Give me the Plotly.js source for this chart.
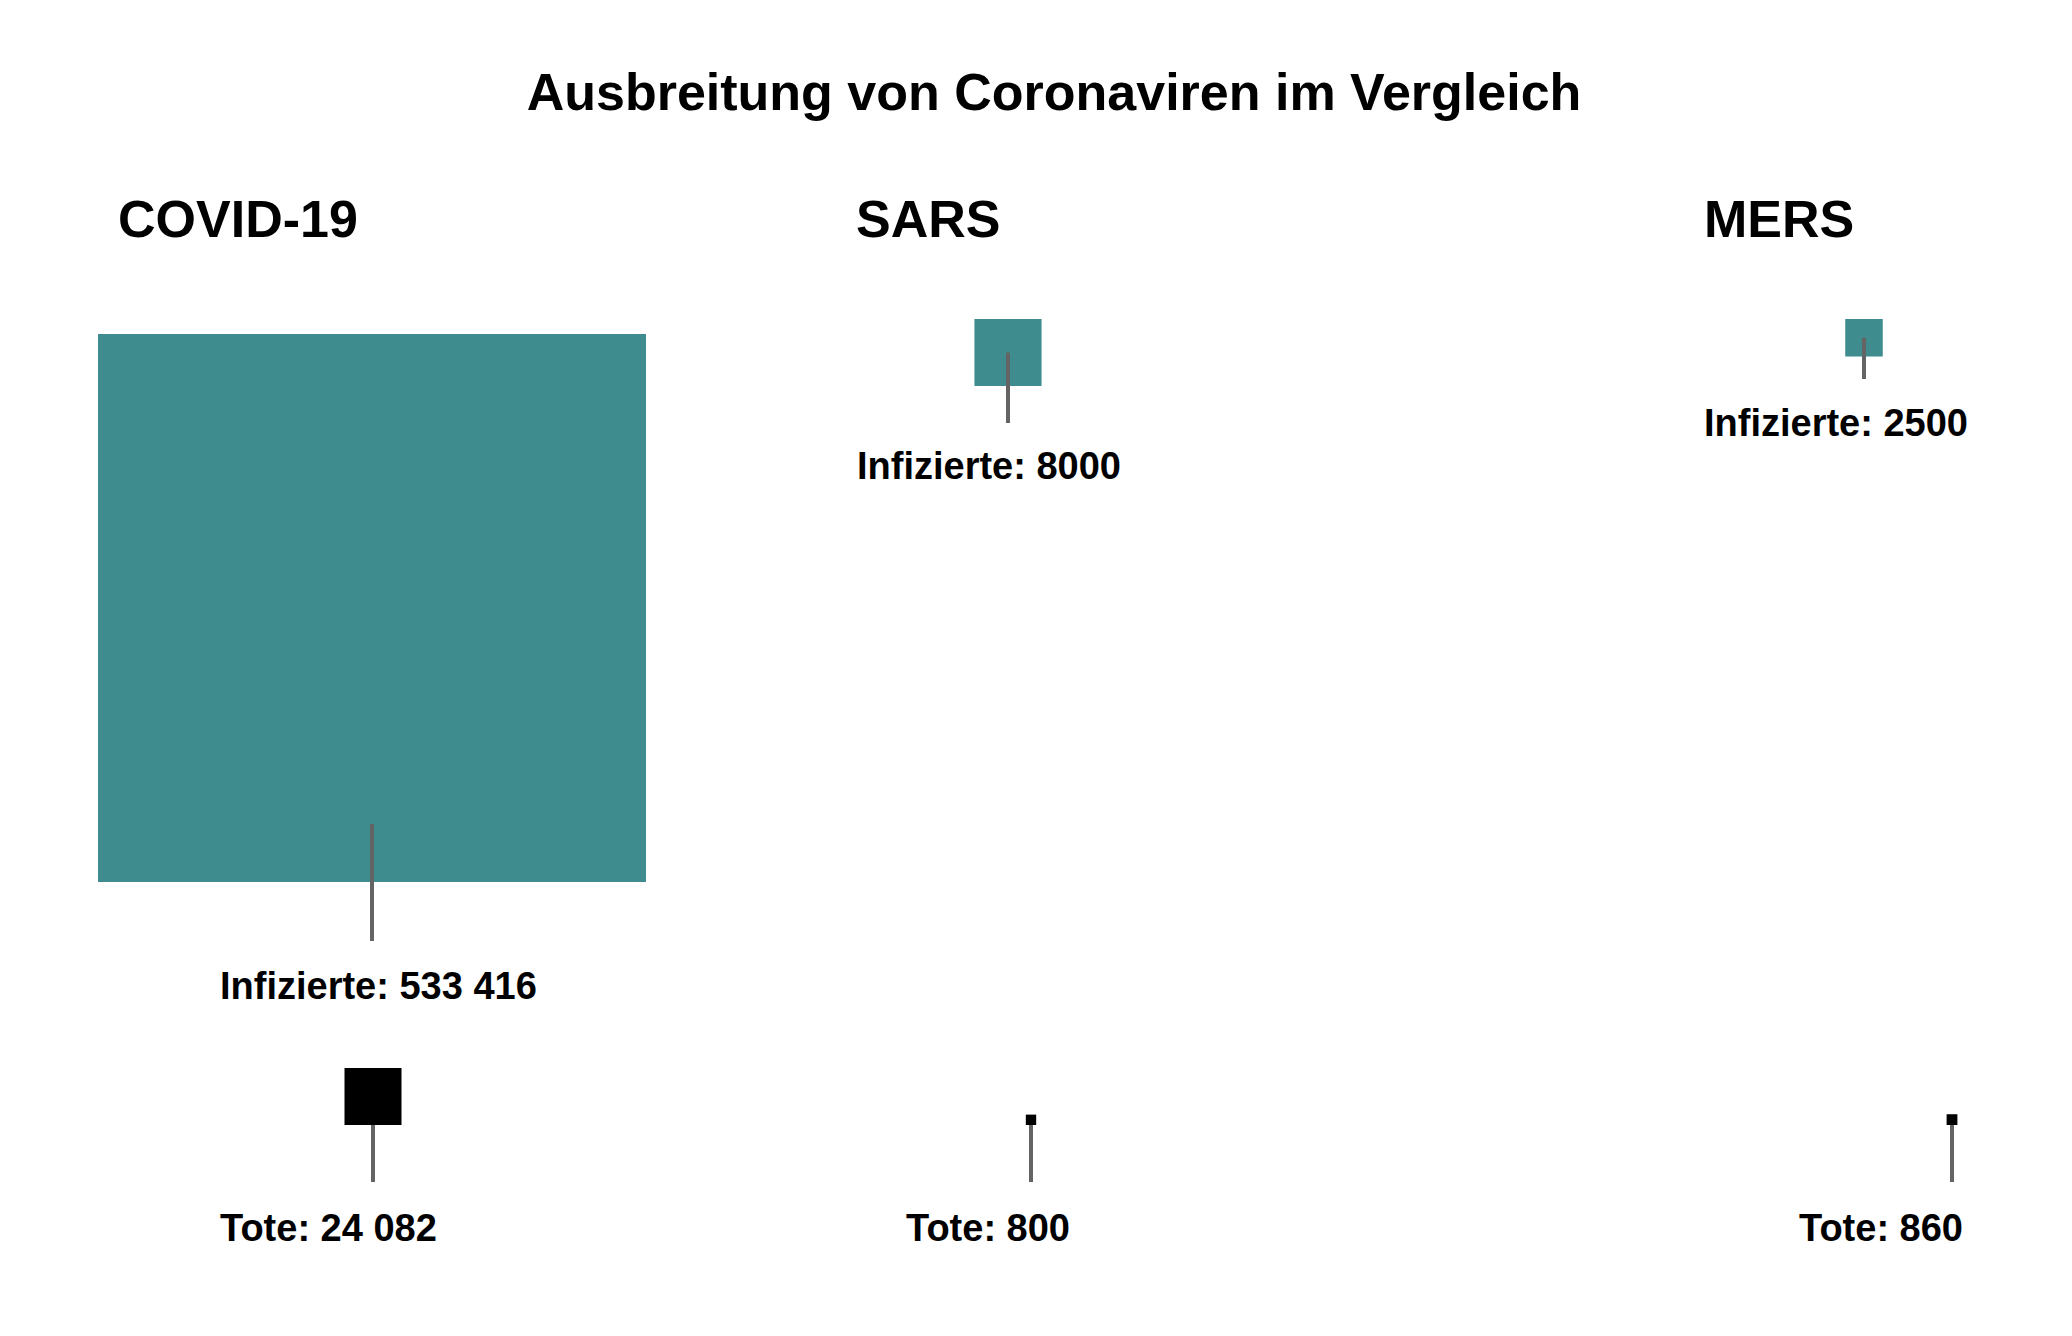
<!DOCTYPE html>
<html><head><meta charset="utf-8">
<script src="https://cdn.plot.ly/plotly-3.0.1.min.js"></script>
<style>html,body{margin:0;padding:0;background:#fff}</style>
</head><body><div id="chart" style="width:2072px;height:1336px"></div>
<script>
// ---------- data ----------
const diseases = ['COVID-19', 'SARS', 'MERS'];
const infected = [533416, 8000, 2500];
const deaths = [24082, 800, 860];
const chartTitle = 'Ausbreitung von Coronaviren im Vergleich';
const infectedLabel = 'Infizierte';
const deathsLabel = 'Tote';

// ---------- layout / style ----------
const W = 2072, H = 1336;
const TEAL = '#3f8c8f', DEATH_COL = '#000000', LEADER = '#646464', TEXT = '#000000';
const FONT = '"Liberation Sans", Arial, Helvetica, sans-serif';
const TITLE_FS = 52, LABEL_FS = 38;
const MAX_INF_SIDE = 548;   // px side of the largest "infected" square
const MAX_DEA_SIDE = 57;    // px side of the largest "deaths" square
const L = {
  headLeft: [117, 855, 1703], headBase: 238,
  infCx: [372, 1008, 1864], infTop: [334, 319, 319],
  infLineEnd: [941, 423, 379], infLabelLeft: [219, 856, 1703], infLabelBase: [1000, 480, 437],
  deaCx: [373, 1031, 1952], deaBottom: 1125, deaLineEnd: 1182,
  deaLabelLeft: [219, 905, 1798], deaLabelBase: 1242
};

// area-proportional square sides
const infK = MAX_INF_SIDE / Math.sqrt(Math.max(...infected));
const deaK = MAX_DEA_SIDE / Math.sqrt(Math.max(...deaths));
const infSide = infected.map(v => infK * Math.sqrt(v));
const deaSide = deaths.map(v => deaK * Math.sqrt(v));

function fmt(v) {
  const s = String(v);
  if (v < 10000) return s;
  return s.replace(/\B(?=(\d{3})+(?!\d))/g, ' ');
}

const infY = infSide.map((s, i) => L.infTop[i] + s / 2);
const deaY = deaSide.map(s => L.deaBottom - s / 2);

// leader lines
const lx = [], ly = [];
infSide.forEach((s, i) => {
  const start = Math.max(L.infTop[i] + s / 2, L.infTop[i] + s - 58);
  lx.push(L.infCx[i], L.infCx[i], null);
  ly.push(start, L.infLineEnd[i], null);
});
deaSide.forEach((s, i) => {
  lx.push(L.deaCx[i], L.deaCx[i], null);
  ly.push(L.deaBottom, L.deaLineEnd, null);
});

const traces = [
  { type: 'scatter', mode: 'markers', x: L.infCx, y: infY, name: infectedLabel,
    marker: { symbol: 'square', size: infSide, color: TEAL, opacity: 1, line: { width: 0 } }, hoverinfo: 'skip' },
  { type: 'scatter', mode: 'markers', x: L.deaCx, y: deaY, name: deathsLabel,
    marker: { symbol: 'square', size: deaSide, color: DEATH_COL, opacity: 1, line: { width: 0 } }, hoverinfo: 'skip' },
  { type: 'scatter', mode: 'lines', x: lx, y: ly, line: { color: LEADER, width: 4 }, hoverinfo: 'skip' }
];

function ann(text, xLeft, baseline, fs) {
  return { x: xLeft - 1, y: baseline + 1 + 0.212 * fs, xref: 'x', yref: 'y',
    xanchor: 'left', yanchor: 'bottom', showarrow: false, text: text,
    font: { family: FONT, size: fs, color: TEXT, weight: 'bold' } };
}
const annotations = [];
diseases.forEach((d, i) => {
  annotations.push(ann(d, L.headLeft[i], L.headBase, TITLE_FS));
  annotations.push(ann(infectedLabel + ': ' + fmt(infected[i]), L.infLabelLeft[i], L.infLabelBase[i], LABEL_FS));
  annotations.push(ann(deathsLabel + ': ' + fmt(deaths[i]), L.deaLabelLeft[i], L.deaLabelBase, LABEL_FS));
});

const layout = {
  width: W, height: H,
  margin: { l: 0, r: 0, t: 0, b: 0, pad: 0 },
  paper_bgcolor: '#ffffff', plot_bgcolor: '#ffffff',
  showlegend: false,
  title: { text: chartTitle, x: 1054 / W, xref: 'paper', xanchor: 'center',
    y: 1 - 74 / H, yref: 'container', yanchor: 'top',
    font: { family: FONT, size: TITLE_FS, color: TEXT, weight: 'bold' } },
  xaxis: { range: [0, W], visible: false, fixedrange: true },
  yaxis: { range: [H, 0], visible: false, fixedrange: true },
  annotations: annotations
};

Plotly.newPlot('chart', traces, layout, { staticPlot: true, displayModeBar: false });
</script>
</body></html>
